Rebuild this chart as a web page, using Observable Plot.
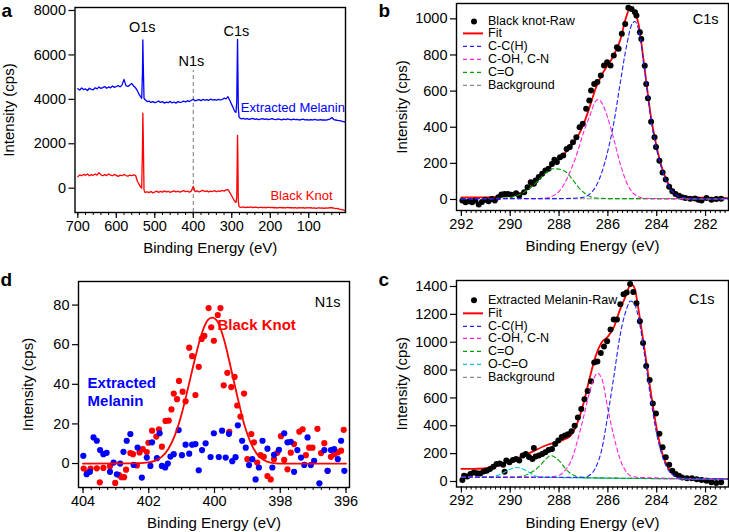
<!DOCTYPE html>
<html><head><meta charset="utf-8">
<script src="https://cdn.jsdelivr.net/npm/d3@7"></script>
<script src="https://cdn.jsdelivr.net/npm/@observablehq/plot@0.6"></script>
<style>
body{margin:0;background:#fff;}
#chart{position:relative;width:729px;height:532px;overflow:hidden;font-family:"Liberation Sans",Arial,Helvetica,sans-serif;}
#chart > svg{position:absolute;left:0;top:0;}
.legend{position:absolute;font-size:12.5px;color:#000;}
.legend .row{display:flex;align-items:center;white-space:nowrap;overflow:visible;}
.legend .row svg{margin-right:5px;flex:none;}
.legend .row span{display:inline-block;overflow:visible;}
</style></head>
<body><div id="chart"></div>
<script>
// ---------------- Panel a: survey spectra ----------------
const aE = [700,695,690,685,680,675,670,665,660,655,650,645,640,635,630,625,620,615,610,605,600,595,590,585,580,575,570,565,560,555,550,545,
 540,537,534,532,531,530,528,525,520,
 515,510,505,500,495,490,485,480,475,470,465,460,455,450,445,440,435,430,425,420,415,410,405,400,395,390,385,380,375,370,365,360,355,350,345,340,335,330,325,320,315,310,305,300,
 297,294,291,289,287,286,285,284,283,281,278,275,
 270,265,260,255,250,245,240,235,230,225,220,215,210,205,200,195,190,185,180,175,170,165,160,155,150,145,140,135,130,125,120,115,110,105,100,95,90,85,80,75,70,65,60,55,50,45,40,35,30,25,20,15,10,5];
const aMelanin = [4480,4420,4510,4440,4470,4400,4500,4450,4430,4520,4470,4560,4490,4530,4580,4500,4560,4520,4600,4540,4580,4620,4560,4650,4900,4620,4580,4640,4720,4600,4520,4380,
 4200,4120,4050,5200,6680,5600,4050,3980,3900,
 3920,3860,3900,3850,3880,3920,3860,3900,3830,3880,3850,3910,3840,3880,3830,3900,3860,3880,3920,3880,3940,3900,3960,4000,3930,3960,3990,3940,4000,3960,3990,3950,4010,3970,3990,3960,4000,3980,3990,4050,4020,4120,3950,3760,
 3650,3520,3430,3420,3900,5400,6700,5200,3600,3200,3150,3120,
 3140,3110,3130,3100,3120,3140,3100,3120,3090,3110,3130,3100,3120,3090,3110,3130,3100,3090,3120,3100,3080,3110,3090,3120,3100,3080,3110,3090,3100,3070,3090,3110,3080,3090,3060,3090,3070,3100,3080,3060,3090,3070,3080,3060,3090,3110,3180,3090,3070,3050,3040,3020,3000,2980];
const aBlackKnot = [520,600,560,620,580,640,560,610,580,640,590,700,600,560,610,570,640,590,560,620,580,530,590,560,620,570,540,590,560,600,580,300,
 150,60,0,1800,3380,2400,-80,-200,-160,
 -200,-150,-210,-170,-130,-190,-140,-180,-120,-170,-140,-190,-150,-120,-170,-130,-180,-140,-110,-160,-130,-180,-120,80,-160,-120,-170,-130,-100,-150,-120,-170,-130,-150,-110,-160,-120,-140,-100,-130,-80,-60,-200,-350,
 -450,-540,-620,-640,-400,1000,2380,1200,-600,-830,-850,-860,
 -840,-870,-850,-860,-840,-870,-850,-860,-880,-850,-870,-860,-880,-850,-870,-860,-880,-870,-890,-860,-880,-870,-890,-860,-880,-870,-890,-880,-900,-870,-890,-880,-900,-880,-890,-880,-900,-890,-910,-880,-900,-890,-910,-890,-900,-870,-880,-900,-920,-910,-940,-960,-980,-1010];
const aXTicks = [700,600,500,400,300,200,100];
const aYTicks = [0,2000,4000,6000,8000];
const aPeakNames = ["O1s","N1s","C1s"];
const aPeakE = [532.7,404.7,287.8];
const aPeakV = [7261,5692,7082];
const aN1sMarker = [{e:400, top:5300}];

// ---------------- Panel b: Black knot C1s ----------------
const bRaw = [[291.96,-5],[291.83,-15],[291.69,-10],[291.56,-15],[291.43,-5],[291.29,-28],[291.16,-14],[291.03,-2],[290.89,-10],[290.76,2],[290.63,-5],[290.49,13],[290.36,28],[290.23,31],[290.09,30],[289.96,26],[289.76,35],[289.63,22],[289.43,40],[289.29,68],[289.16,96],[289.03,87],[288.96,105],[288.83,124],[288.69,142],[288.56,160],[288.43,170],[288.29,197],[288.19,220],[288.09,207],[287.96,234],[287.83,243],[287.69,280],[287.56,290],[287.43,317],[287.29,345],[287.16,400],[287.03,419],[286.89,502],[286.76,548],[286.69,603],[286.56,640],[286.43,650],[286.29,686],[286.16,742],[286.03,760],[285.89,742],[285.76,797],[285.63,843],[285.56,834],[285.43,917],[285.29,972],[285.16,1061],[285.03,1055],[284.89,1037],[284.83,1018],[284.69,926],[284.63,889],[284.49,740],[284.43,640],[284.36,560],[284.23,430],[284.09,345],[284.03,290],[283.89,215],[283.76,150],[283.63,110],[283.49,70],[283.36,45],[283.23,30],[283.09,20],[282.96,12],[282.83,8],[282.63,4],[282.43,6],[282.29,-2],[282.16,-5],[281.96,8],[281.76,-2],[281.56,2],[281.36,4]];
const bFit = [[292,12],[291,12],[290.5,14],[290,22],[289.5,40],[289,92],[288.75,125],[288.5,160],[288.25,195],[288,225],[287.75,258],[287.5,300],[287.25,345],[287,415],[286.75,510],[286.5,615],[286.25,690],[286,745],[285.75,800],[285.5,880],[285.25,1010],[285.1,1058],[285,1050],[284.75,975],[284.5,730],[284.25,470],[284,290],[283.75,160],[283.5,80],[283.25,40],[283,20],[282.5,12],[282,10],[281.5,9],[281.1,8]];
const bCC = [[292,5],[288,5],[287.25,8],[287,12],[286.75,30],[286.5,70],[286.25,150],[286,270],[285.75,430],[285.5,640],[285.25,840],[285,975],[284.9,985],[284.75,945],[284.5,720],[284.25,455],[284,275],[283.75,150],[283.5,72],[283.25,30],[283,12],[282.5,6],[281.1,5]];
const bCOH = [[292,5],[289,5],[288.5,8],[288.25,20],[288,45],[287.75,95],[287.5,170],[287.25,260],[287,370],[286.75,460],[286.5,545],[286.4,553],[286.25,535],[286,450],[285.75,330],[285.5,200],[285.25,100],[285,40],[284.75,15],[284.5,6],[281.1,4]];
const bCO = [[292,5],[290.5,6],[290,12],[289.5,35],[289,85],[288.75,120],[288.5,152],[288.25,170],[288,168],[287.75,155],[287.5,120],[287.25,75],[287,40],[286.75,18],[286.5,8],[286,5],[281.1,4]];
const bBg = [[292,6],[286,4],[281.1,3]];
const bYTicks = [0,200,400,600,800,1000];

// ---------------- Panel c: Extracted melanin C1s ----------------
const cRaw = [[291.96,10],[291.89,41],[291.76,35],[291.63,53],[291.49,65],[291.36,60],[291.23,58],[291.09,72],[290.96,77],[290.83,89],[290.69,106],[290.56,126],[290.43,130],[290.29,120],[290.23,70],[290.16,150],[290.03,138],[289.89,154],[289.76,162],[289.63,150],[289.49,186],[289.36,198],[289.23,175],[289.09,162],[289.03,241],[288.96,180],[288.83,186],[288.69,198],[288.56,210],[288.43,227],[288.29,234],[288.16,270],[288.03,294],[287.89,319],[287.76,330],[287.63,340],[287.49,360],[287.36,400],[287.23,460],[287.09,520],[286.96,590],[286.83,650],[286.69,720],[286.56,854],[286.43,862],[286.29,922],[286.16,970],[286.03,1007],[285.89,1091],[285.76,1163],[285.63,1163],[285.49,1272],[285.36,1344],[285.23,1356],[285.09,1417],[284.96,1361],[284.83,1279],[284.69,1151],[284.56,994],[284.43,830],[284.29,729],[284.16,560],[284.03,488],[283.89,343],[283.76,246],[283.63,174],[283.49,121],[283.36,77],[283.23,53],[283.09,41],[282.96,29],[282.76,24],[282.56,24],[282.36,17],[282.16,10],[281.96,5],[281.76,-5],[281.56,-10],[281.36,-5]];
const cFit = [[292,90],[291.5,91],[291,95],[290.5,112],[290,148],[289.5,180],[289,222],[288.5,262],[288,288],[287.75,305],[287.5,335],[287.25,420],[287,560],[286.75,740],[286.5,900],[286.25,1000],[286,1040],[285.75,1110],[285.5,1236],[285.25,1340],[285.1,1405],[285,1410],[284.9,1385],[284.75,1240],[284.5,950],[284.25,650],[284,380],[283.75,190],[283.5,90],[283.25,45],[283,26],[282.5,22],[282,20],[281.5,19],[281.1,18]];
const cCC = [[292,32],[288,30],[287,30],[286.75,45],[286.5,100],[286.25,230],[286,480],[285.75,760],[285.5,1050],[285.25,1230],[285.07,1296],[284.9,1270],[284.75,1180],[284.5,910],[284.25,600],[284,340],[283.75,170],[283.5,75],[283.25,38],[283,24],[282,20],[281.1,18]];
const cCOH = [[292,32],[288.5,32],[288,45],[287.75,80],[287.5,150],[287.25,290],[287,460],[286.75,640],[286.5,765],[286.43,777],[286.25,740],[286,520],[285.75,320],[285.5,160],[285.25,70],[285,35],[284.5,28],[281.1,18]];
const cCO = [[292,30],[290,30],[289.5,38],[289.25,55],[289,80],[288.75,120],[288.5,168],[288.35,186],[288,150],[287.75,95],[287.5,55],[287.25,35],[287,28],[281.1,18]];
const cOCO = [[292,30],[291,30],[290.75,33],[290.5,45],[290.25,65],[290,88],[289.75,101],[289.5,92],[289.25,68],[289,42],[288.75,32],[288.5,30],[281.1,18]];
const cBg = [[292,30],[288,29],[286,25],[284,20],[281.1,17]];
const cYTicks = [0,200,400,600,800,1000,1200,1400];
const c1sXTicks = [292,290,288,286,284,282];

// ---------------- Panel d: N1s ----------------
const dBlackKnot = [[403.98,-2.5],[403.87,-4.4],[403.77,-2.5],[403.58,-2.4],[403.49,-9.5],[403.38,-2.2],[403.18,-1.4],[403.02,-9.8],[402.90,-5.9],[402.83,-6.9],[402.75,-6.9],[402.69,-3.1],[402.56,5.3],[402.48,4.7],[402.36,-1.0],[402.28,5.6],[402.18,7.3],[402.06,5.8],[402.01,10.5],[401.90,16.6],[401.77,13.6],[401.69,17.3],[401.60,8.5],[401.49,21.5],[401.39,21.7],[401.31,27.3],[401.24,35.3],[401.14,32.5],[401.08,41.7],[400.97,36.3],[400.88,31.4],[400.77,58.5],[400.68,54.2],[400.58,34.6],[400.48,48.8],[400.39,62.9],[400.31,64.4],[400.18,78.5],[400.10,68.8],[400.02,62.0],[399.90,75.0],[399.82,78.5],[399.72,39.5],[399.61,45.8],[399.55,16.0],[399.49,38.6],[399.39,43.7],[399.31,29.3],[399.21,23.7],[399.10,35.3],[399.00,2.2],[398.88,14.9],[398.80,10.7],[398.70,0.5],[398.60,4.2],[398.50,3.4],[398.39,-6.3],[398.29,-8.0],[398.19,2.2],[398.09,5.4],[397.98,13.8],[397.88,1.8],[397.78,-2.9],[397.68,5.5],[397.58,9.8],[397.42,16.1],[397.32,17.3],[397.22,4.2],[397.12,8.0],[397.02,8.0],[396.87,17.5],[396.76,5.3],[396.66,10.3],[396.56,-3.7],[396.46,3.4],[396.36,4.7],[396.25,5.6],[396.15,6.5],[396.07,17.0]];
const dMelanin = [[403.99,3.9],[403.89,-5.4],[403.79,-4.2],[403.68,13.2],[403.58,11.5],[403.48,6.8],[403.38,4.7],[403.28,5.4],[403.18,-4.2],[403.07,0.5],[402.97,-5.4],[402.87,0],[402.77,5.9],[402.67,11.5],[402.56,14.9],[402.46,-0.7],[402.34,8.1],[402.21,-7.1],[402.06,3.0],[401.95,-1.2],[401.90,10.7],[401.75,2.7],[401.67,15.3],[401.60,-1.2],[401.50,-2.0],[401.42,0],[401.34,3.5],[401.24,4.7],[401.09,16.9],[400.99,4.2],[400.88,9.5],[400.77,5.0],[400.68,9.5],[400.58,9.8],[400.48,-3.4],[400.38,6.8],[400.27,10.2],[400.12,3.3],[400.02,15.3],[399.87,3.3],[399.77,16.6],[399.66,3.0],[399.56,15.0],[399.46,1.2],[399.36,3.2],[399.29,19.3],[399.16,11.5],[399.05,8.0],[398.95,-0.8],[398.85,2.2],[398.75,-8.0],[398.65,-2.0],[398.54,11.5],[398.39,7.5],[398.24,-2.0],[398.19,4.4],[398.04,6.9],[397.88,15.3],[397.78,10.7],[397.68,11.0],[397.58,-4.2],[397.48,6.8],[397.37,3.0],[397.27,-0.7],[397.17,13.2],[397.07,-0.8],[396.97,1.4],[396.81,-10.0],[396.66,6.8],[396.56,-3.7],[396.46,6.8],[396.36,7.3],[396.25,2.2],[396.15,11.5],[396.05,-3.7]];
const dFit = [[404,0],[402.5,0.1],[402,0.6],[401.8,1.5],[401.6,3.5],[401.4,7.5],[401.2,14.5],[401,25],[400.8,38.5],[400.6,52.5],[400.4,65],[400.2,72.5],[400.07,73.7],[399.9,71.5],[399.7,62],[399.5,48],[399.3,33.5],[399.1,20],[398.9,10.5],[398.7,4.6],[398.5,1.8],[398.3,0.5],[398,0],[396,0]];
const dXTicks = [404,402,400,398,396];
const dYTicks = [0,20,40,60,80];

// ---------------- drawing ----------------
const W = 729, H = 532;
const FONT = "Liberation Sans, Arial, Helvetica, sans-serif";
const chart = document.getElementById("chart");
const px = d => d[0], py = d => d[1];

function within(ticks, dom) {
  const lo = Math.min(...dom), hi = Math.max(...dom);
  return ticks.filter(t => t >= lo - 1e-9 && t <= hi + 1e-9);
}
function axes(xMajor, xMinor, yTicks) {
  return [
    Plot.axisX({ticks: xMinor, tickSize: 3, tickFormat: () => "", label: null, strokeWidth: 1}),
    Plot.axisX({ticks: xMajor, tickSize: 6, tickPadding: 2, tickFormat: d => String(d), label: null, fontSize: 14.5, strokeWidth: 1.2}),
    Plot.axisY({ticks: yTicks, tickSize: 6, tickPadding: 3, tickFormat: d => String(d), label: null, fontSize: 14.5, strokeWidth: 1.2})
  ];
}
function titles(letter, letterDx, letterDy, yTitleDx) {
  return [
    Plot.frame({stroke: "black", strokeWidth: 1.4}),
    Plot.text(["Binding Energy (eV)"], {frameAnchor: "bottom", dy: 36, textAnchor: "middle", lineAnchor: "middle", fontSize: 15, fill: "black"}),
    Plot.text(["Intensity (cps)"], {frameAnchor: "left", dx: yTitleDx, rotate: -90, textAnchor: "middle", lineAnchor: "middle", fontSize: 15, fill: "black"}),
    Plot.text([letter], {frameAnchor: "top-left", dx: letterDx, dy: letterDy, textAnchor: "start", lineAnchor: "bottom", fontSize: 19, fontWeight: "bold", fill: "black"})
  ];
}
function make(frame, xDom, yDom, marks) {
  const svg = Plot.plot({
    width: W, height: H,
    marginLeft: frame.l, marginRight: W - frame.r, marginTop: frame.t, marginBottom: H - frame.b,
    x: {domain: xDom}, y: {domain: yDom},
    style: {background: "transparent", fontFamily: FONT, fontSize: "14px", color: "black", overflow: "visible"},
    marks
  });
  chart.appendChild(svg);
}

// Panel a
{
  const xDom = [707.3, 4.5], yDom = [-1094, 8135];
  const rows = aE.map((e, i) => ({e, m: aMelanin[i], k: aBlackKnot[i]}));
  const peaks = aPeakNames.map((t, i) => ({t, e: aPeakE[i], v: aPeakV[i]}));
  make({l: 74.5, r: 345, t: 7, b: 212}, xDom, yDom, [
    ...axes(aXTicks, within(d3.range(700, 0, -20), xDom), aYTicks),
    Plot.ruleX(aN1sMarker, {x: "e", y1: yDom[0], y2: "top", stroke: "#777", strokeDasharray: "4,3", strokeWidth: 1}),
    Plot.line(rows, {x: "e", y: "m", stroke: "#0000ff", strokeWidth: 1.3}),
    Plot.line(rows, {x: "e", y: "k", stroke: "#ff0000", strokeWidth: 1.3}),
    Plot.text(peaks, {x: "e", y: "v", text: "t", fontSize: 14.5, fill: "black"}),
    Plot.text(["Extracted Melanin"], {x: 6, y: 3630, textAnchor: "end", fontSize: 13, fill: "#0000ff"}),
    Plot.text(["Black Knot"], {x: 38, y: -360, textAnchor: "end", fontSize: 13, fill: "#ff0000"}),
    ...titles("a", -73.5, 9.7, -65.5)
  ]);
}

// Panel b
const c1sDom = [292.2, 281.06];
const c1sMinor = within(d3.range(0, 60).map(i => +(292 - i * 0.2).toFixed(1)), c1sDom);
const dash = "4,3";
{
  make({l: 456, r: 728, t: 3, b: 210}, c1sDom, [-61, 1085], [
    ...axes(c1sXTicks, c1sMinor, bYTicks),
    Plot.line(bFit, {x: px, y: py, stroke: "#ff0000", strokeWidth: 1.8, curve: "monotone-x"}),
    Plot.dot(bRaw, {x: px, y: py, r: 3, fill: "black"}),
    Plot.line(bBg, {x: px, y: py, stroke: "#8c8c8c", strokeWidth: 1.1, strokeDasharray: dash}),
    Plot.line(bCO, {x: px, y: py, stroke: "#00a000", strokeWidth: 1.1, strokeDasharray: dash, curve: "monotone-x"}),
    Plot.line(bCOH, {x: px, y: py, stroke: "#ff22dd", strokeWidth: 1.1, strokeDasharray: dash, curve: "monotone-x"}),
    Plot.line(bCC, {x: px, y: py, stroke: "#2020ff", strokeWidth: 1.1, strokeDasharray: dash, curve: "monotone-x"}),
    Plot.text(["C1s"], {frameAnchor: "top-right", dx: -10, dy: 16, textAnchor: "end", lineAnchor: "middle", fontSize: 14.5, fill: "black"}),
    ...titles("b", -78, 13.7, -54)
  ]);
}

// Panel c
{
  make({l: 456, r: 728, t: 280, b: 486.5}, c1sDom, [-39.5, 1443], [
    ...axes(c1sXTicks, c1sMinor, cYTicks),
    Plot.line(cFit, {x: px, y: py, stroke: "#ff0000", strokeWidth: 1.8, curve: "monotone-x"}),
    Plot.dot(cRaw, {x: px, y: py, r: 3, fill: "black"}),
    Plot.line(cBg, {x: px, y: py, stroke: "#8c8c8c", strokeWidth: 1.1, strokeDasharray: dash}),
    Plot.line(cOCO, {x: px, y: py, stroke: "#00c8d0", strokeWidth: 1.1, strokeDasharray: dash, curve: "monotone-x"}),
    Plot.line(cCO, {x: px, y: py, stroke: "#00a000", strokeWidth: 1.1, strokeDasharray: dash, curve: "monotone-x"}),
    Plot.line(cCOH, {x: px, y: py, stroke: "#ff22dd", strokeWidth: 1.1, strokeDasharray: dash, curve: "monotone-x"}),
    Plot.line(cCC, {x: px, y: py, stroke: "#2020ff", strokeWidth: 1.1, strokeDasharray: dash, curve: "monotone-x"}),
    Plot.text(["C1s"], {frameAnchor: "top-right", dx: -14, dy: 19, textAnchor: "end", lineAnchor: "middle", fontSize: 14.5, fill: "black"}),
    ...titles("c", -78, 5, -54)
  ]);
}

// Panel d
{
  const xDom = [404.137, 395.894];
  make({l: 78, r: 349, t: 281, b: 487}, xDom, [-12.1, 91.9], [
    ...axes(dXTicks, within(d3.range(0, 33).map(i => 404 - i * 0.25), xDom), dYTicks),
    Plot.dot(dBlackKnot, {x: px, y: py, r: 3.1, fill: "#ff0000"}),
    Plot.dot(dMelanin, {x: px, y: py, r: 3.1, fill: "#0000ff"}),
    Plot.line(dFit, {x: px, y: py, stroke: "#ff0000", strokeWidth: 1.8, curve: "monotone-x"}),
    Plot.text(["Black Knot"], {x: 399.91, y: 69.7, textAnchor: "start", fontSize: 15, fontWeight: "bold", fill: "#ff0000"}),
    Plot.text(["Extracted", "Melanin"], {x: [403.86, 403.86], y: [40.4, 31.3], textAnchor: "start", fontSize: 15, fontWeight: "bold", fill: "#0000ff"}),
    Plot.text(["N1s"], {frameAnchor: "top-right", dx: -9, dy: 21, textAnchor: "end", lineAnchor: "middle", fontSize: 14.5, fill: "black"}),
    ...titles("d", -78, 4, -50.5)
  ]);
}

// Legends (HTML)
const bLegend = [["dot","black","Black knot-Raw"],["solid","#ff0000","Fit"],["dash","#2020ff","C-C(H)"],["dash","#ff22dd","C-OH, C-N"],["dash","#00a000","C=O"],["dash","#8c8c8c","Background"]];
const cLegend = [["dot","black","Extracted Melanin-Raw"],["solid","#ff0000","Fit"],["dash","#2020ff","C-C(H)"],["dash","#ff22dd","C-OH, C-N"],["dash","#00a000","C=O"],["dash","#00c8d0","O-C=O"],["dash","#8c8c8c","Background"]];
function legend(items, left, top, rowH) {
  const div = document.createElement("div");
  div.className = "legend";
  div.style.left = left + "px"; div.style.top = top + "px";
  for (const [kind, color, label] of items) {
    const row = document.createElement("div");
    row.className = "row"; row.style.height = rowH + "px";
    let sw;
    if (kind === "dot") sw = `<circle cx="11" cy="${rowH/2}" r="3" fill="${color}"/>`;
    else if (kind === "solid") sw = `<line x1="0" x2="20" y1="${rowH/2}" y2="${rowH/2}" stroke="${color}" stroke-width="2"/>`;
    else sw = `<line x1="0" x2="20" y1="${rowH/2}" y2="${rowH/2}" stroke="${color}" stroke-width="1.2" stroke-dasharray="4,3"/>`;
    row.innerHTML = `<svg width="20" height="${rowH}">${sw}</svg><span style="height:${rowH}px;line-height:${rowH}px">${label}</span>`;
    div.appendChild(row);
  }
  chart.appendChild(div);
}
legend(bLegend, 463, 14.6, 12.8);
legend(cLegend, 463, 294.4, 12.7);
</script></body></html>
